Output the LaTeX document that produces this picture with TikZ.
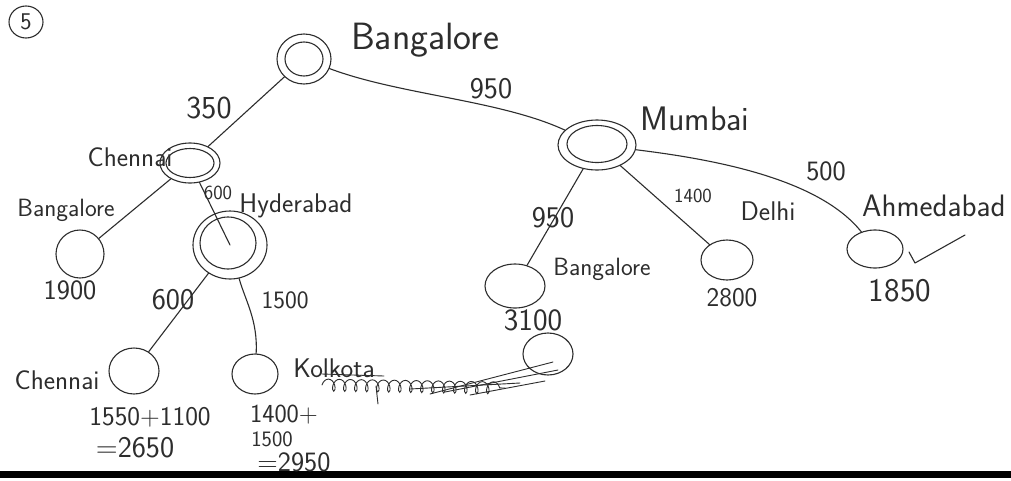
\documentclass[tikz,border=0pt]{standalone}
\usetikzlibrary{shapes.geometric,decorations.pathmorphing}
\definecolor{ink}{RGB}{45,45,45}
\newcommand\hsz[1]{\fontsize{#1}{#1}\selectfont}
\tikzset{
  pen/.style={draw=ink, line width=1.1pt, line cap=round, line join=round},
  ring/.style={ellipse, pen, inner sep=0pt},
  lbl/.style={text=ink, inner sep=0pt, font=\sffamily},
  scrib/.style={draw=ink, line width=0.9pt, line cap=round}
}
\begin{document}
\begin{tikzpicture}[x=1pt,y=-1pt]
\useasboundingbox (0,0) rectangle (1011,480);
\fill[white] (0,0) rectangle (1011,480);
\fill[black] (0,471) rectangle (1011,478);

% question number
\node[ring, minimum width=34pt, minimum height=32pt, lbl, font=\sffamily\hsz{24}] (qno) at (26,22) {5};

% expanded nodes (double rings)
\node[ring, minimum width=54pt, minimum height=50pt] (bang) at (304,59) {};
\node[ring, minimum width=38pt, minimum height=34pt] (bangin) at (304,59) {};
\node[ring, minimum width=60pt, minimum height=40pt] (chen) at (190,163) {};
\node[ring, minimum width=48pt, minimum height=29pt] (chenin) at (190,163) {};
\node[ring, minimum width=78pt, minimum height=50pt] (mum) at (597,145) {};
\node[ring, minimum width=60pt, minimum height=37pt] (mumin) at (597,144) {};
\node[ring, minimum width=74pt, minimum height=68pt] (hyd) at (230,245) {};
\node[ring, minimum width=56pt, minimum height=52pt] (hydin) at (228,243) {};

% leaf nodes
\node[ring, minimum width=48pt, minimum height=48pt] (lbang) at (80,254) {};
\node[ring, minimum width=50pt, minimum height=46pt] (lchen) at (134,371) {};
\node[ring, minimum width=46pt, minimum height=40pt] (kol) at (255,374) {};
\node[ring, minimum width=60pt, minimum height=44pt] (mbang) at (515,286) {};
\node[ring, minimum width=52pt, minimum height=40pt] (delhi) at (727,260) {};
\node[ring, minimum width=56pt, minimum height=38pt] (ahm) at (875,249) {};
\node[ring, minimum width=50pt, minimum height=42pt] (extra) at (548,354) {};

% city names
\node[lbl, font=\sffamily\hsz{38}] (tbang) at (425,40) {Bangalore};
\node[lbl, font=\sffamily\hsz{27}] (tchen) at (130,157) {Chennai};
\node[lbl, font=\sffamily\hsz{34}] (tmum) at (695,119) {Mumbai};
\node[lbl, font=\sffamily\hsz{25}] (tlbang) at (66,210) {Bangalore};
\node[lbl, font=\sffamily\hsz{27}] (thyd) at (296,206) {Hyderabad};
\node[lbl, font=\sffamily\hsz{25}] (tmbang) at (602,269) {Bangalore};
\node[lbl, font=\sffamily\hsz{27}] (tdelhi) at (768,211) {Delhi};
\node[lbl, font=\sffamily\hsz{31}, anchor=west] (tahm) at (862,206) {Ahmedabad};
\node[lbl, font=\sffamily\hsz{27}] (tlchen) at (57,380) {Chennai};
\node[lbl, font=\sffamily\hsz{27}] (tkol) at (334,368) {Kolkota};

% edges
\draw[pen] (bang) -- (chen);
\draw[pen] (bang) .. controls (400,95) and (500,100) .. (mum);
\draw[pen] (chen) -- (lbang);
\draw[pen] (chen) -- (hyd.center);
\draw[pen] (hyd) -- (lchen);
\draw[pen] (hyd) .. controls (245,300) and (258,320) .. (kol);
\draw[pen] (mum) -- (mbang);
\draw[pen] (mum) -- (delhi);
\draw[pen] (mum) .. controls (720,160) and (820,180) .. (ahm);

% edge costs
\node[lbl, font=\sffamily\hsz{32}] (c350) at (209,108) {350};
\node[lbl, font=\sffamily\hsz{30}] (c950a) at (491,89) {950};
\node[lbl, font=\sffamily\hsz{20}] (c600a) at (218,193) {600};
\node[lbl, font=\sffamily\hsz{30}] (c600b) at (173,300) {600};
\node[lbl, font=\sffamily\hsz{25}] (c1500) at (285,300) {1500};
\node[lbl, font=\sffamily\hsz{30}] (c950b) at (553,218) {950};
\node[lbl, font=\sffamily\hsz{20}] (c1400) at (693,196) {1400};
\node[lbl, font=\sffamily\hsz{28}] (c500) at (826,171) {500};

% path totals
\node[lbl, font=\sffamily\hsz{28}] (g1900) at (70,290) {1900};
\node[lbl, font=\sffamily\hsz{31}] (g3100) at (533,320) {3100};
\node[lbl, font=\sffamily\hsz{27}] (g2800) at (732,298) {2800};
\node[lbl, font=\sffamily\hsz{33}] (g1850) at (900,291) {1850};
\node[lbl, font=\sffamily\hsz{27}] (s1) at (150,417) {1550+1100};
\node[lbl, font=\sffamily\hsz{30}] (s2) at (135,448) {=2650};
\node[lbl, font=\sffamily\hsz{26}] (s3) at (284,415) {1400+};
\node[lbl, font=\sffamily\hsz{22}] (s4) at (272,439) {1500};
\node[lbl, font=\sffamily\hsz{28}] (s5) at (294,462) {=2950};

% tick mark
\coordinate (tk1) at (909,252);
\coordinate (tk2) at (915,263);
\coordinate (tk3) at (965,235);
\draw[pen] (tk1) -- (tk2) -- (tk3);

% crossed-out scribble next to Kolkota
\draw[scrib, decorate, decoration={coil, aspect=0.6, segment length=11pt, amplitude=6pt}]
  (322,385) -- (505,388);
\draw[scrib] (322,374) -- (384,376);
\draw[scrib] (376,386) -- (378,404);
\draw[scrib] (430,394) -- (553,362);
\draw[scrib] (445,392) -- (558,370);
\draw[scrib] (470,395) -- (545,381);
\draw[scrib] (410,389) -- (520,383);
\end{tikzpicture}
\end{document}
